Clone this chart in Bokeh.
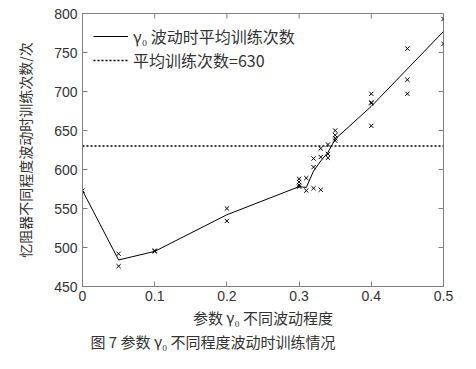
import math
from bokeh.plotting import figure
from bokeh.models import Title, Legend, LegendItem, FixedTicker
from bokeh.embed import file_html
from bokeh.resources import INLINE

# Scatter samples (gamma0, training count)
pts_x = [0.0,
         0.05, 0.05,
         0.1, 0.1,
         0.2, 0.2,
         0.3, 0.3, 0.3, 0.3,
         0.31, 0.31,
         0.32, 0.32, 0.32,
         0.33, 0.33, 0.33,
         0.34, 0.34, 0.34,
         0.35, 0.35, 0.35, 0.35,
         0.4, 0.4, 0.4, 0.4,
         0.45, 0.45, 0.45,
         0.5, 0.5]
pts_y = [573,
         492, 476,
         496, 495,
         550, 534,
         588, 584, 580, 578,
         589, 573,
         614, 603, 576,
         627, 616, 574,
         632, 620, 615,
         650, 644, 640, 637,
         697, 686, 685, 656,
         755, 715, 697,
         793, 761]

# Mean training count curve
mean_x = [0.0, 0.05, 0.1, 0.2, 0.3, 0.31, 0.32, 0.33, 0.34, 0.35, 0.4, 0.45, 0.5]
mean_y = [573, 484, 495, 542, 578, 577, 598, 611, 622, 639, 681, 729, 777]

avg_all = 630
x_ticks = [0, 0.1, 0.2, 0.3, 0.4, 0.5]
y_ticks = [450, 500, 550, 600, 650, 700, 750, 800]
x_lo, x_hi = 0, 0.5
y_lo, y_hi = 450, 800

AX = "#808080"
TXT = "#333333"
CJK = "Noto Sans CJK SC"

p = figure(width=460, height=353, output_backend="svg", toolbar_location=None,
           x_range=(x_lo, x_hi), y_range=(y_lo, y_hi),
           frame_width=361, frame_height=273,
           min_border_left=82, min_border_right=17, min_border_top=13, min_border_bottom=10)
p.grid.visible = False
p.outline_line_color = AX
p.background_fill_color = "white"

line_r = p.line(mean_x, mean_y, line_color="black", line_width=1)
p.scatter(pts_x, pts_y, marker="x", size=6, line_color="black", line_width=1)
h_r = p.line([x_lo, x_hi], [avg_all, avg_all], line_color="black", line_width=1.5, line_dash="2 2")

# mirrored inward ticks on top and right edges (clipped to the frame)
p.scatter(x_ticks, [y_hi] * len(x_ticks), marker="dash", angle=math.pi / 2, size=10,
          line_color=AX, line_width=1)
p.scatter([x_hi] * len(y_ticks), y_ticks, marker="dash", size=10,
          line_color=AX, line_width=1)

for ax in (p.xaxis[0], p.yaxis[0]):
    ax.axis_line_color = AX
    ax.major_tick_line_color = AX
    ax.major_tick_in = 5
    ax.major_tick_out = 0
    ax.minor_tick_line_color = None
    ax.major_label_text_font = "Liberation Sans"
    ax.major_label_text_font_size = "14px"
    ax.major_label_text_color = TXT
    ax.axis_label_text_font = CJK
    ax.axis_label_text_font_style = "normal"
    ax.axis_label_text_color = TXT

p.xaxis[0].ticker = FixedTicker(ticks=x_ticks)
p.yaxis[0].ticker = FixedTicker(ticks=y_ticks)
p.xaxis[0].major_label_overrides = {0: "0", 0.1: "0.1", 0.2: "0.2", 0.3: "0.3", 0.4: "0.4", 0.5: "0.5"}
p.xaxis[0].major_label_standoff = 4
p.yaxis[0].major_label_standoff = 5
p.yaxis[0].axis_label = "忆阻器不同程度波动时训练次数/次"
p.yaxis[0].axis_label_text_font_size = "14px"
p.yaxis[0].axis_label_standoff = 16

legend = Legend(items=[LegendItem(label="γ₀ 波动时平均训练次数", renderers=[line_r]),
                       LegendItem(label="平均训练次数=630", renderers=[h_r])],
                location="top_left", margin=1, padding=10,
                glyph_width=35, glyph_height=16, label_height=16, spacing=-2,
                label_standoff=5, border_line_alpha=0, background_fill_alpha=0,
                label_text_font=CJK, label_text_font_size="16px", label_text_color=TXT)
p.add_layout(legend)

xlab = Title(text="参数 γ₀ 不同波动程度", align="center",
             text_font=CJK, text_font_size="15px", text_font_style="normal",
             text_color=TXT, standoff=2)
p.add_layout(xlab, "below")

cap = Title(text="图 7  参数 γ₀ 不同程度波动时训练情况", align="left", offset=8,
            text_font=CJK, text_font_size="15px", text_font_style="normal",
            text_color=TXT, standoff=0)
p.add_layout(cap, "below")

open("out.html", "w").write(file_html(p, INLINE))
